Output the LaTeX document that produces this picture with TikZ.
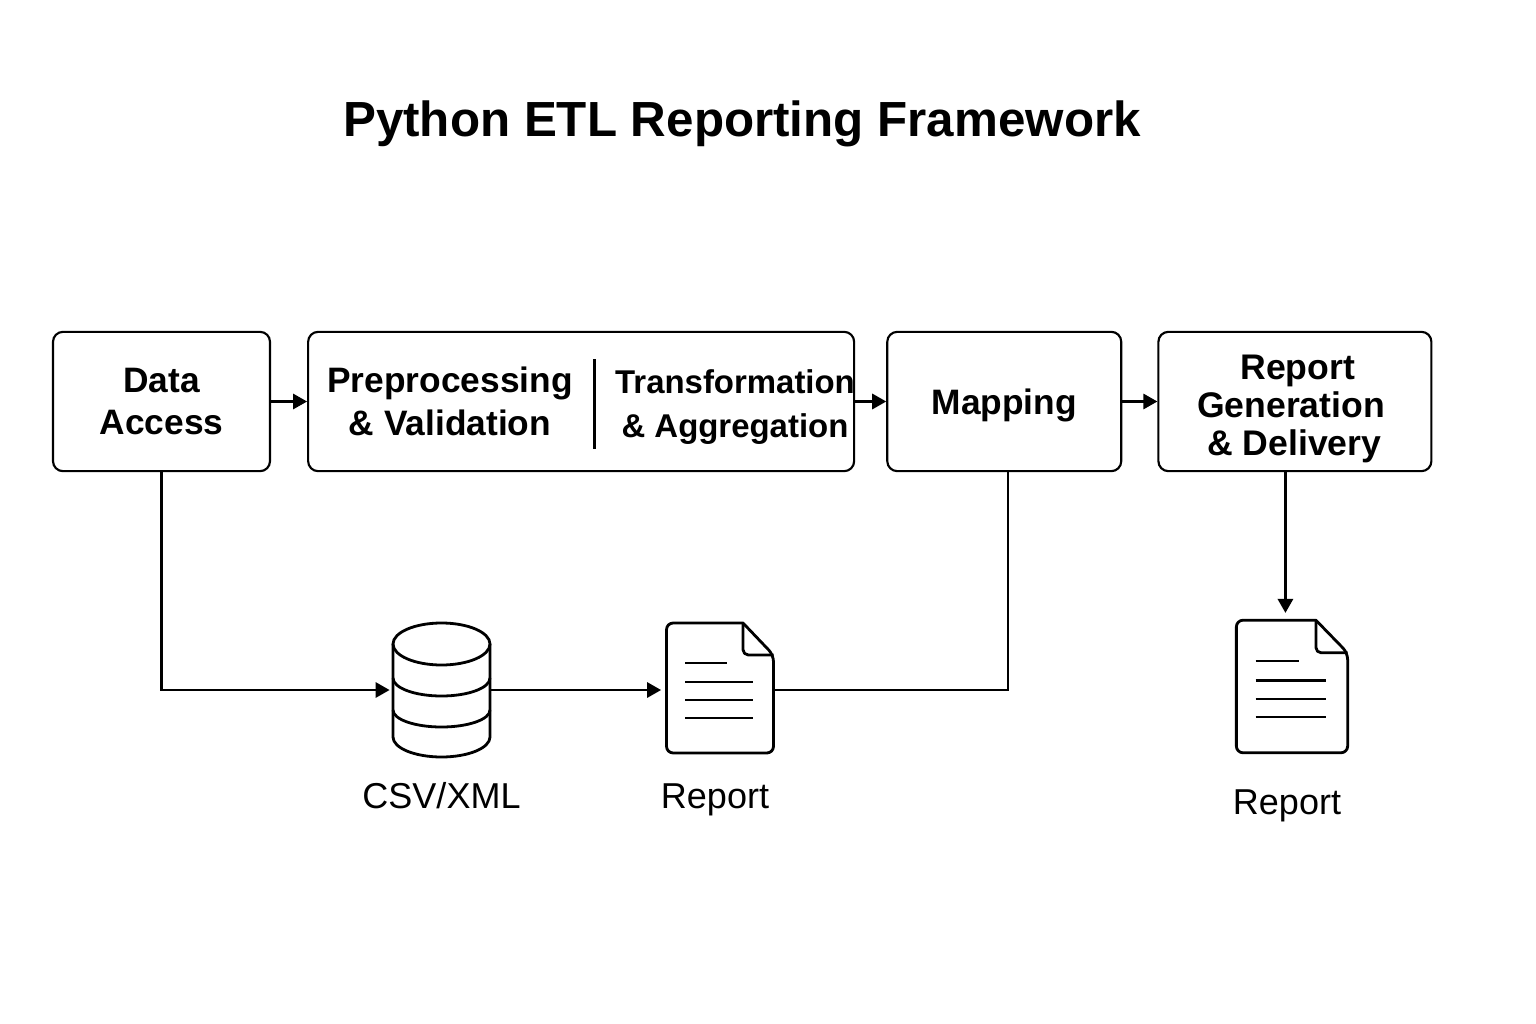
\documentclass[tikz,border=0pt]{standalone}
\usepackage{fontspec}
\setmainfont{Liberation Sans}
\usetikzlibrary{positioning,arrows.meta}

\tikzset{
    stagebox/.style={draw, line width=1.6pt, rounded corners=7.5pt, minimum height=104.5pt, align=center,
        font=\bfseries\fontsize{26.5}{31}\selectfont},
    stagetext/.style={align=center, font=\bfseries\fontsize{26.5}{32.5}\selectfont},
    iconlabel/.style={font=\fontsize{27}{32}\selectfont},
    flow/.style={line width=1.6pt, -{Triangle[length=10.5pt,width=11.5pt]}},
    pics/docicon/.style={code={
        \draw[line width=2.1pt, line join=round] (23,-65) [rounded corners=5pt] -- (-53.5,-65) -- (-53.5,65) -- (53.5,65) -- (53.5,-33) [sharp corners] -- cycle;
        \draw[line width=2.1pt, line join=round] (23,-65) [rounded corners=4pt] -- (23,-33) [sharp corners] -- (53.5,-33);
        \draw[line width=1.8pt] (-35,-25) -- (7,-25);
        \foreach \liney in {-6,12,30} {
            \draw[line width=1.8pt] (-35,\liney) -- (33,\liney);
        }
    }}
}

\begin{document}
\begin{tikzpicture}[x=0.75pt, y=-0.75pt]
    \useasboundingbox (0,0) rectangle (1536,1024);

    \node (title) at (742,124) {\bfseries\fontsize{37}{44}\selectfont Python ETL Reporting Framework};

    % top row
    \node [stagebox, minimum width=162.75pt] (access) at (161.5,401.5) {Data\\Access};
    \node [stagebox, minimum width=409.5pt, right=27pt of access] (process) {};
    \node [stagebox, minimum width=175.5pt, text depth=0pt, right=23.25pt of process] (mapping) {Mapping};
    \node [stagebox, minimum width=204.75pt, right=26.25pt of mapping] (delivery) {};

    \node [stagetext] (prep) at (450,401.5) {Preprocessing\\\& Validation};
    \node [stagetext, font=\bfseries\fontsize{24.7}{33}\selectfont] (transform) at (735,407) {Transformation\\\& Aggregation};
    \coordinate (divtop) at (594.5,359);
    \coordinate (divbottom) at (594.5,449);
    \draw [line width=1.6pt] (divtop) -- (divbottom);
    \node [stagetext, font=\bfseries\fontsize{26.7}{28.2}\selectfont] (deliverytext) at (1291,409) {\hspace*{10pt}Report\\Generation\\\hspace*{5pt}\& Delivery};

    % bottom row, invisible nodes hold the icons
    \node [minimum width=73pt, minimum height=100.5pt, inner sep=0pt] (store) at (441.5,690) {};
    \node [minimum width=80pt, minimum height=97.5pt, inner sep=0pt] (docin) at (720,690) {};
    \node [minimum width=84pt, minimum height=100pt, inner sep=0pt] (docout) at (1292,686.5) {};

    % database
    \begin{scope}[shift={(store.center)}, line width=2.1pt]
        \draw (0,-46) ellipse [x radius=48.5, y radius=21];
        \draw (-48.5,-46) -- (-48.5,47) arc [start angle=180, end angle=0, x radius=48.5, y radius=20] -- (48.5,-46);
        \draw (-48.5,-12) arc [start angle=180, end angle=0, x radius=48.5, y radius=18];
        \draw (-48.5,20) arc [start angle=180, end angle=0, x radius=48.5, y radius=17];
    \end{scope}

    \pic at ([yshift=1.5pt]docin.center) {docicon};
    \pic [xscale=1.04, yscale=1.02] at (docout.center) {docicon};

    \node [iconlabel, below=15pt of store] (storelabel) {CSV/XML};
    \node [iconlabel, below=18pt of docin, xshift=-3.75pt] (docinlabel) {Report};
    \node [iconlabel, below=24pt of docout, xshift=-3.75pt] (docoutlabel) {Report};

    % connectors
    \draw [flow] (access) -- (process);
    \draw [flow] (process) -- (mapping);
    \draw [flow] (mapping) -- (delivery);
    \draw [flow, shorten >=2.25pt] (access.south) |- (store.west);
    \draw [flow, shorten >=4pt] (store.east) -- (docin.west);
    \draw [line width=1.6pt] (docin.east) -| ([xshift=3pt]mapping.south);
    \draw [flow, shorten >=5pt] ([xshift=-7.1pt]delivery.south) -- ([xshift=-7.1pt]delivery.south |- docout.north);
\end{tikzpicture}
\end{document}
